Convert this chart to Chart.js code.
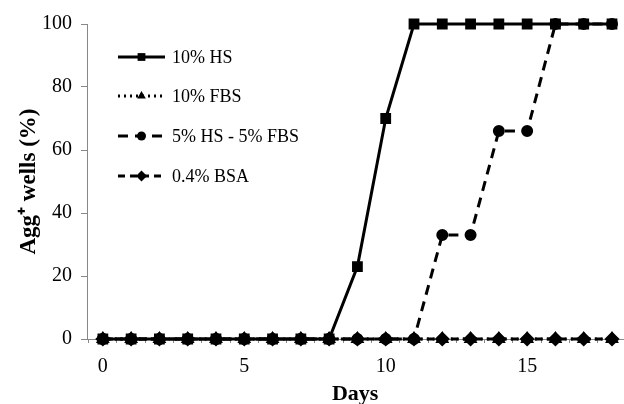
<!DOCTYPE html>
<html>
<head>
<meta charset="utf-8">
<script src="https://cdn.jsdelivr.net/npm/chart.js@4"></script>
<style>
  html, body { margin: 0; padding: 0; background: #fff; }
  #wrap { width: 624px; height: 404px; }
</style>
</head>
<body>
<div id="wrap"><canvas id="aggChart"></canvas></div>
<script>
// Data
const days = [0, 1, 2, 3, 4, 5, 6, 7, 8, 9, 10, 11, 12, 13, 14, 15, 16, 17, 18];
const hs10 = [0, 0, 0, 0, 0, 0, 0, 0, 0, 23, 70, 100, 100, 100, 100, 100, 100, 100, 100];
const fbs10 = [0, 0, 0, 0, 0, 0, 0, 0, 0, 0, 0, 0, 0, 0, 0, 0, 0, 0, 0];
const hsFbs = [0, 0, 0, 0, 0, 0, 0, 0, 0, 0, 0, 0, 33, 33, 66, 66, 100, 100, 100];
const bsa = [0, 0, 0, 0, 0, 0, 0, 0, 0, 0, 0, 0, 0, 0, 0, 0, 0, 0, 0];
const seriesNames = ['10% HS', '10% FBS', '5% HS - 5% FBS', '0.4% BSA'];
const xTickLabels = [0, 5, 10, 15];
const yTickLabels = [0, 20, 40, 60, 80, 100];

const toPoints = vals => vals.map((v, i) => ({ x: days[i], y: v }));

const serif = '"Liberation Serif", "Times New Roman", serif';

// legend drawn inside the plot: line sample + marker + label
const lineLegend = {
    id: 'lineLegend',
    afterDraw(chart) {
        const ctx = chart.ctx;
        const rows = [57, 96, 136, 176];
        chart.data.datasets.forEach((ds, i) => {
            const y = rows[i];
            ctx.save();
            ctx.strokeStyle = '#000';
            ctx.lineWidth = ds.borderWidth;
            ctx.setLineDash(ds.borderDash || []);
            ctx.beginPath();
            ctx.moveTo(118, y);
            ctx.lineTo(165, y);
            ctx.stroke();
            ctx.setLineDash([]);
            ctx.fillStyle = '#000';
            ctx.lineWidth = 1;
            Chart.helpers.drawPoint(ctx, { pointStyle: ds.pointStyle, radius: ds.pointRadius, rotation: 0 }, 141.5, y);
            ctx.font = '18px ' + serif;
            ctx.textBaseline = 'middle';
            ctx.fillText(ds.label, 172, y + 1);
            ctx.restore();
        });
    }
};

const ctx = document.getElementById('aggChart').getContext('2d');

const aggChart = new Chart(ctx, {
    type: 'scatter',
    data: {
        datasets: [
            {
                label: seriesNames[0],
                data: toPoints(hs10),
                showLine: true,
                borderColor: '#000',
                backgroundColor: '#000',
                borderWidth: 3,
                pointStyle: 'rect',
                pointRadius: 5.5,
                clip: false,
            },
            {
                label: seriesNames[1],
                data: toPoints(fbs10),
                showLine: true,
                borderColor: '#000',
                backgroundColor: '#000',
                borderWidth: 3,
                borderDash: [2, 4],
                pointStyle: 'triangle',
                pointRadius: 5,
                clip: false,
            },
            {
                label: seriesNames[2],
                data: toPoints(hsFbs),
                showLine: true,
                borderColor: '#000',
                backgroundColor: '#000',
                borderWidth: 3,
                borderDash: [10, 7],
                pointStyle: 'circle',
                pointRadius: 4.5,
                clip: false,
            },
            {
                label: seriesNames[3],
                data: toPoints(bsa),
                showLine: true,
                borderColor: '#000',
                backgroundColor: '#000',
                borderWidth: 3,
                borderDash: [7, 5],
                pointStyle: 'rectRot',
                pointRadius: 5.5,
                clip: false,
            },
        ],
    },
    options: {
        responsive: true,
        maintainAspectRatio: false,
        animation: false,
        layout: { autoPadding: false, padding: { top: 24, right: 0, left: 0, bottom: 0 } },
        plugins: {
            legend: { display: false },
            tooltip: { enabled: false },
        },
        scales: {
            x: {
                type: 'linear',
                min: -0.56,
                max: 18.4,
                afterBuildTicks: scale => {
                    const t = [];
                    for (let v = -0.5; v <= 18.4; v += 0.5) t.push({ value: v });
                    scale.ticks = t;
                },
                afterFit: scale => { scale.height = 65; },
                border: { color: '#888', width: 1 },
                grid: {
                    drawOnChartArea: false,
                    tickLength: 4,
                    color: '#888',
                },
                ticks: {
                    autoSkip: false,
                    maxRotation: 0,
                    padding: 12,
                    color: '#000',
                    font: { family: serif, size: 20 },
                    callback: v => (xTickLabels.includes(v) ? String(v) : ''),
                },
                title: {
                    display: true,
                    text: 'Days',
                    color: '#000',
                    font: { family: serif, size: 22, weight: 'bold', lineHeight: 1 },
                    padding: { top: 0, bottom: -1 },
                },
            },
            y: {
                min: 0,
                max: 100,
                afterBuildTicks: scale => {
                    scale.ticks = yTickLabels.map(v => ({ value: v }));
                },
                afterFit: scale => { scale.width = 87; },
                border: { color: '#888', width: 1 },
                grid: {
                    drawOnChartArea: false,
                    tickLength: 6,
                    color: '#888',
                },
                ticks: {
                    padding: 9,
                    color: '#000',
                    font: { family: serif, size: 20 },
                },
                title: {
                    display: true,
                    text: 'Agg\u207A wells (%)',
                    color: '#000',
                    font: { family: serif, size: 23, weight: 'bold' },
                    padding: { top: 15, bottom: 0 },
                },
            },
        },
    },
    plugins: [lineLegend],
});
</script>
</body>
</html>
